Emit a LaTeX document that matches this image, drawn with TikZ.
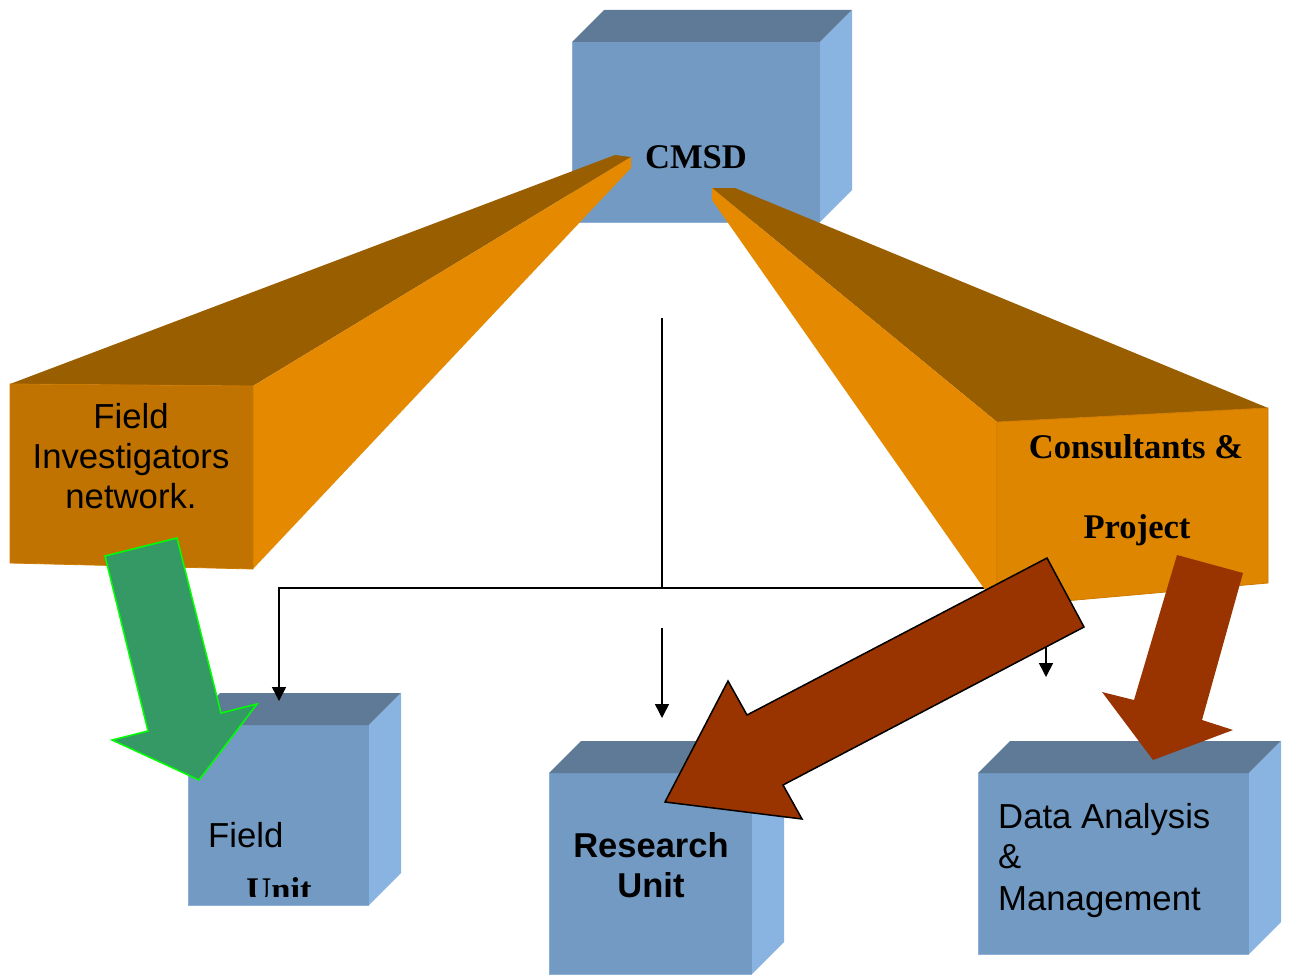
\documentclass[tikz,border=0pt]{standalone}
\usepackage{fontspec}
\setmainfont{Liberation Serif}
\newfontfamily\arialf{Liberation Sans}
\usetikzlibrary{arrows.meta}
\definecolor{bluefront}{RGB}{115,154,194}
\definecolor{bluetop}{RGB}{94,122,151}
\definecolor{blueside}{RGB}{137,179,224}
\definecolor{blueedge}{RGB}{140,175,215}
\definecolor{orfrontL}{RGB}{192,115,0}
\definecolor{orfrontR}{RGB}{222,134,0}
\definecolor{orside}{RGB}{228,137,0}
\definecolor{ortop}{RGB}{153,94,0}
\definecolor{oredge}{RGB}{205,122,0}
\definecolor{brownarrow}{RGB}{153,51,0}
\definecolor{greenarrow}{RGB}{53,153,102}
\definecolor{greenedge}{RGB}{0,255,0}
\newcommand{\mycube}[5]{%
  \fill[bluefront] (#1,#2) rectangle (#3,#4);
  \draw[blueedge, line width=1pt] (#1,#2) -- (#1,#4) -- (#3,#4);
  \fill[bluetop] (#1,#2) -- (#1+#5,#2-#5) -- (#3+#5,#2-#5) -- (#3,#2) -- cycle;
  \fill[blueside] (#3,#2) -- (#3+#5,#2-#5) -- (#3+#5,#4-#5) -- (#3,#4) -- cycle;
}
\tikzset{
  sanslbl/.style={inner sep=0pt, anchor=base, font=\arialf\fontsize{34.7}{40}\selectfont},
  sansbold/.style={inner sep=0pt, anchor=base, font=\arialf\bfseries\fontsize{34.5}{40}\selectfont},
  seriflbl/.style={inner sep=0pt, anchor=base, font=\bfseries\fontsize{34.6}{40}\selectfont},
  conn/.style={line width=1.5pt, black},
  connarrow/.style={conn, -{Triangle[width=14pt,length=14pt]}},
  fatbrown/.style={fill=brownarrow, draw=black, line width=1.5pt, line join=miter},
}
\begin{document}
\begin{tikzpicture}[x=1pt,y=-1pt]
\useasboundingbox (0,0) rectangle (1289,974);
\fill[white] (0,0) rectangle (1289,974);

% CMSD cube
\mycube{572}{42}{820}{222}{32}
% lower cubes
\mycube{188}{725}{369}{905}{32}
\mycube{549}{773}{752}{974}{32}
\mycube{978}{773}{1249}{954}{32}

% thin connectors
\coordinate (vtop) at (662,318);
\coordinate (junc) at (662,588);
\coordinate (hleft) at (279,588);
\coordinate (futop) at (279,701);
\coordinate (datop) at (1046,677);
\coordinate (midtop) at (662,628);
\coordinate (rutop) at (662,718);
\draw[conn] (vtop) -- (junc);
\draw[connarrow] (junc) -- (hleft) -- (futop);
\draw[connarrow] (junc) -| (datop);
\draw[connarrow] (midtop) -- (rutop);

% left orange extruded shape
\fill[ortop] (10,384) -- (615,155) -- (631,157) -- (253,386) -- cycle;
\fill[orside] (253,386) -- (631,157) -- (631,168) -- (253,569) -- cycle;
\fill[orfrontL] (10,384) -- (253,386) -- (253,569) -- (10,563) -- cycle;
\draw[oredge, line width=0.8pt] (10,384) -- (253,386) -- (253,569) -- (10,563) -- cycle;

% right orange extruded shape
\fill[ortop] (712,188) -- (735,188) -- (1268,408) -- (997,422) -- cycle;
\fill[orside] (712,188) -- (997,422) -- (997,607) -- (712,200) -- cycle;
\fill[orfrontR] (997,422) -- (1268,408) -- (1268,583) -- (997,607) -- cycle;
\draw[oredge, line width=0.8pt] (997,422) -- (1268,408) -- (1268,583) -- (997,607) -- cycle;

% labels
\node[seriflbl] (cmsd) at (696,168) {CMSD};

\node[sanslbl] (fin1) at (131,428) {Field};
\node[sanslbl] (fin2) at (131,468) {Investigators};
\node[sanslbl] (fin3) at (131,508) {network.};

\node[seriflbl] (cp1) at (1136,458) {Consultants \&};
\node[seriflbl] (cp2) at (1137,538) {Project};

\node[sanslbl, anchor=base west] (fu1) at (208,847) {Field};
\begin{scope}
  \clip (188,700) rectangle (369,896);
  \node[seriflbl] (fu2) at (279,901) {Unit};
\end{scope}

\node[sansbold] (ru1) at (651,857) {Research};
\node[sansbold] (ru2) at (651,897) {Unit};

\node[sanslbl, anchor=base west] (da1) at (998,828) {Data Analysis};
\node[sanslbl, anchor=base west] (da2) at (998,868) {\&};
\node[sanslbl, anchor=base west] (da3) at (998,910) {Management};

% fat arrows
\draw[fill=greenarrow, draw=greenedge, line width=1.5pt, line join=miter]
  (105,556) -- (177,538) -- (221,713) -- (257,704) -- (199,780) -- (112,740) -- (148,731) -- cycle;
\draw[fatbrown]
  (1047,558) -- (1084,627) -- (783,785) -- (802,819) -- (665,802) -- (728,681) -- (747,715) -- cycle;
\fill[brownarrow]
  (1177,555) -- (1243,573) -- (1202,720) -- (1233,730) -- (1153,760) -- (1102,692) -- (1134,700) -- cycle;
\end{tikzpicture}
\end{document}
